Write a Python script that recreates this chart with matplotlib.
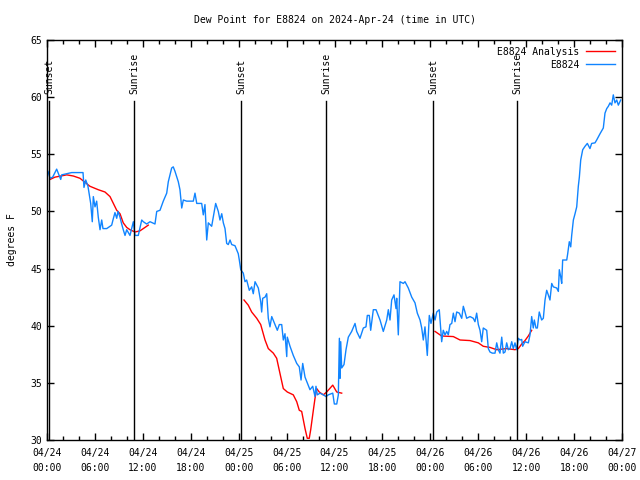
import numpy as np
import matplotlib
matplotlib.use("Agg")
from matplotlib import pyplot as plt
import matplotlib.dates as mdates

plt.rcParams['font.family'] = ['DejaVu Sans Mono']

# hours after 2024-04-24 00:00 UTC
obs_h = [0.13, 0.38, 0.71, 1.21, 1.38, 1.72, 1.84, 3.09, 4.51, 4.63, 4.85, 5.13, 5.47, 5.67,
         5.80, 6.01, 6.22, 6.42, 6.64, 6.85, 7.01, 7.48, 8.10, 8.26, 8.51, 8.73, 8.89, 9.14,
         9.35, 9.55, 9.77, 9.98, 10.39, 10.81, 11.02, 11.43, 11.86, 12.06, 12.48, 12.90, 13.52,
         13.74, 14.15, 14.56, 14.99, 15.19, 15.61, 15.81, 16.03, 16.44, 16.65, 16.87, 17.07,
         17.49, 18.32, 18.53, 18.75, 19.37, 19.57, 19.78, 20.00, 20.20, 20.62, 20.82, 21.12,
         21.45, 21.66, 21.88, 22.08, 22.29, 22.50, 22.70, 22.92, 23.13, 23.54, 23.95, 24.08,
         24.26, 24.58, 24.79, 25.00, 25.33, 25.63, 25.83, 26.05, 26.46, 26.76, 26.88, 27.01,
         27.30, 27.51, 27.71, 27.92, 28.14, 28.55, 28.84, 29.09, 29.39, 29.59, 29.80, 30.02,
         30.09, 30.43, 30.84, 31.27, 31.59, 31.81, 32.02, 32.31, 32.59, 32.93, 33.27, 33.56,
         33.68, 33.85, 34.18, 34.60, 34.94, 35.22, 35.78, 35.98, 36.28, 36.48, 36.61, 36.70,
         36.78, 36.90, 37.19, 37.44, 37.73, 38.15, 38.57, 38.78, 39.19, 39.61, 39.94, 40.11,
         40.36, 40.53, 40.86, 41.20, 41.70, 42.11, 42.54, 42.74, 42.95, 43.16, 43.45, 43.70,
         43.79, 43.99, 44.20, 44.62, 44.83, 45.24, 45.67, 46.08, 46.37, 46.71, 46.92, 47.12,
         47.33, 47.62, 47.87, 48.08, 48.37, 48.59, 48.80, 49.12, 49.42, 49.62, 49.84, 50.05,
         50.25, 50.46, 50.68, 50.88, 51.09, 51.30, 51.63, 51.93, 52.13, 52.34, 52.55, 52.97,
         53.38, 53.59, 53.80, 54.01, 54.22, 54.43, 54.63, 55.06, 55.26, 55.47, 55.76, 56.10,
         56.31, 56.51, 56.72, 56.94, 57.14, 57.35, 57.56, 57.77, 57.98, 58.19, 58.39, 58.60,
         58.81, 59.02, 59.23, 59.44, 59.56, 59.85, 60.27, 60.48, 60.69, 60.89, 61.02, 61.23,
         61.40, 61.64, 61.94, 62.15, 62.36, 62.57, 62.77, 62.98, 63.20, 63.40, 63.82, 64.03,
         64.15, 64.32, 64.45, 64.57, 65.08, 65.20, 65.40, 65.58, 65.70, 65.91, 66.12, 66.33,
         66.53, 66.66, 66.83, 67.08, 67.37, 67.66, 67.99, 68.20, 68.62, 68.83, 69.25, 69.66,
         69.87, 70.09, 70.29, 70.50, 70.71, 70.91, 71.12, 71.34, 71.54, 71.84]
obs_f = [53.5, 52.9, 53.0, 53.7, 53.4, 52.8, 53.2, 53.4, 53.4, 52.1, 52.75, 52.2, 50.7, 49.1,
         51.3, 50.4, 50.9, 49.5, 48.4, 49.25, 48.5, 48.5, 48.8, 49.25, 49.9, 49.4, 50.0, 49.5,
         48.9, 48.4, 47.9, 48.4, 47.9, 49.1, 47.9, 47.9, 49.25, 49.1, 48.9, 49.1, 48.9,
         50.0, 50.1, 50.9, 51.6, 52.6, 53.8, 53.9, 53.5, 52.6, 51.9, 50.3, 51.0,
         50.9, 50.9, 51.6, 50.7, 50.7, 49.7, 50.6, 47.5, 49.0, 48.7, 49.5, 50.7,
         50.0, 49.25, 49.8, 49.0, 48.5, 47.2, 47.1, 47.5, 47.1, 47.0, 46.3, 45.75,
         44.9, 44.6, 43.85, 44.0, 43.1, 43.4, 42.8, 43.85, 43.3, 42.1, 41.2, 42.4,
         42.5, 42.8, 40.65, 39.9, 40.8, 40.1, 39.6, 40.1, 40.1, 38.75, 39.3, 37.3,
         39.0, 38.2, 37.4, 36.7, 36.4, 35.25, 36.7, 35.5, 35.0, 34.4, 34.7, 33.8,
         34.7, 33.95, 34.1, 33.95, 33.8, 33.95, 34.1, 33.15, 33.15, 33.95, 38.9, 35.4,
         38.6, 36.3, 36.6, 37.9, 39.0, 39.5, 40.2, 39.5, 38.9, 39.8, 39.9, 40.9,
         40.9, 39.6, 41.4, 41.4, 40.5, 39.5, 40.5, 41.4, 40.5, 42.25, 42.7, 41.5,
         42.4, 39.2, 43.85, 43.7, 43.85, 43.3, 42.5, 42.0, 41.1, 40.5, 39.8, 38.75,
         39.9, 37.4, 40.9, 40.2, 41.1, 40.5, 41.2, 41.4, 38.6, 39.6, 39.2, 39.5,
         39.2, 40.1, 40.2, 41.1, 40.35, 41.2, 41.1, 40.65, 41.7, 41.2, 40.65, 40.8,
         40.65, 40.35, 41.1, 40.1, 39.6, 38.6, 39.8, 39.6, 38.0, 37.7, 37.6, 37.6,
         38.5, 37.9, 37.6, 39.0, 37.6, 37.7, 38.5, 37.9, 38.0, 38.6, 38.0, 38.5,
         37.9, 38.9, 38.75, 38.8, 38.2, 38.6, 38.5, 39.2, 40.8, 39.8, 40.5, 39.8,
         39.8, 41.2, 40.5, 40.65, 42.25, 43.1, 42.7, 42.25, 43.7, 43.4, 43.3, 43.0,
         44.9, 44.3, 43.7, 45.75, 45.75, 46.3, 47.35, 46.9, 47.9, 49.25, 49.8, 50.4,
         52.2, 53.0, 54.5, 55.4, 55.7, 55.95, 55.5, 55.95, 56.0, 56.25, 56.8, 57.3,
         58.6, 59.0, 59.2, 59.5, 59.3, 60.2, 59.5, 59.75, 59.3, 59.75]

# analysis, gaps as nan
ana_h = [0.38, 1.0, 2.47, 3.29, 4.13, 5.38, 6.42, 7.26, 7.89, 8.31, 8.73, 9.14, 9.55, 9.98,
         10.39, 11.02, 11.64, 12.27, 12.68, 12.9,
         24.67, 25.2, 25.63, 26.26, 26.76, 27.30, 27.71, 28.34, 28.76, 29.18, 29.59, 30.09,
         30.84, 31.27, 31.59, 31.89, 32.31, 32.59, 32.84, 33.02, 33.35, 33.56, 33.77, 34.09,
         34.60, 35.02, 35.78, 36.28, 36.90, 37.0,
         48.59, 49.0, 49.42, 50.88, 51.72, 52.97, 54.01, 54.63, 55.47, 56.31, 57.56, 58.60,
         59.02, 59.44, 59.85, 60.27, 60.69]
ana_f = [52.8, 53.0, 53.2, 53.1, 52.9, 52.2, 51.9, 51.7, 51.3, 50.7, 50.1, 49.8, 49.0, 48.6,
         48.4, 48.2, 48.3, 48.6, 48.8, np.nan,
         42.25, 41.8, 41.2, 40.65, 40.1, 38.75, 38.0, 37.6, 37.15, 35.8, 34.5, 34.2,
         33.95, 33.35, 32.6, 32.5, 31.0, 30.15, 30.15, 30.9, 32.6, 33.65, 34.5, 34.2,
         33.95, 34.2, 34.8, 34.2, 34.1, np.nan,
         39.5, 39.3, 39.1, 39.05, 38.75, 38.7, 38.5, 38.2, 38.1, 37.9, 38.0, 37.9,
         38.0, 38.4, 38.7, 39.1, 39.6]

sun_h = [0.25, 10.89, 24.29, 34.94, 48.33, 58.85]
sun_lbl = ["Sunset", "Sunrise", "Sunset", "Sunrise", "Sunset", "Sunrise"]

t0 = np.datetime64('2024-04-24T00:00')
def to_t(h):
    return t0 + (np.array(h) * 3600).astype('timedelta64[s]')

fig = plt.figure(figsize=(6.4, 4.8), dpi=100)
ax = fig.add_axes([47/640, 40/480, 575/640, 400/480])

ax.plot(to_t(ana_h), ana_f, color='#ff0000', lw=1, label='E8824 Analysis')
ax.plot(to_t(obs_h), obs_f, color='#1084ff', lw=1, label='E8824')

for h, s in zip(sun_h, sun_lbl):
    t = to_t([h])[0]
    ax.plot([t, t], [30, 59.7], color='black', lw=1)
    ax.text(t, 60.3, s, rotation=90, ha='center', va='bottom', fontsize=7)

ax.set_xlim(to_t([0])[0], to_t([72])[0])
ax.set_ylim(30, 65)
ax.set_yticks(np.arange(30, 66, 5))
ax.xaxis.set_major_locator(mdates.HourLocator(byhour=[0, 6, 12, 18]))
ax.xaxis.set_minor_locator(mdates.HourLocator(interval=2))
ax.xaxis.set_major_formatter(mdates.DateFormatter('%m/%d\n%H:%M'))
ax.tick_params(axis='both', which='both', direction='in', top=True, right=True,
               labelsize=7, width=1)
ax.tick_params(axis='both', which='major', length=5)
ax.tick_params(axis='x', which='minor', length=3)
ax.tick_params(axis='x', which='major', pad=6)
for lab in ax.get_xticklabels():
    lab.set_linespacing(1.6)
ax.set_ylabel('degrees F', fontsize=7)
ax.yaxis.set_label_coords(-0.053, 0.5)
ax.set_title('Dew Point for E8824 on 2024-Apr-24 (time in UTC)', fontsize=7, pad=12)
for sp in ax.spines.values():
    sp.set_linewidth(1)

ax.legend(loc='upper right', fontsize=7, frameon=False, markerfirst=False,
          handlelength=3.0, borderaxespad=0.3, labelspacing=0.3, handletextpad=0.7,
          borderpad=0.4)

fig.savefig('out.png', dpi=100)
